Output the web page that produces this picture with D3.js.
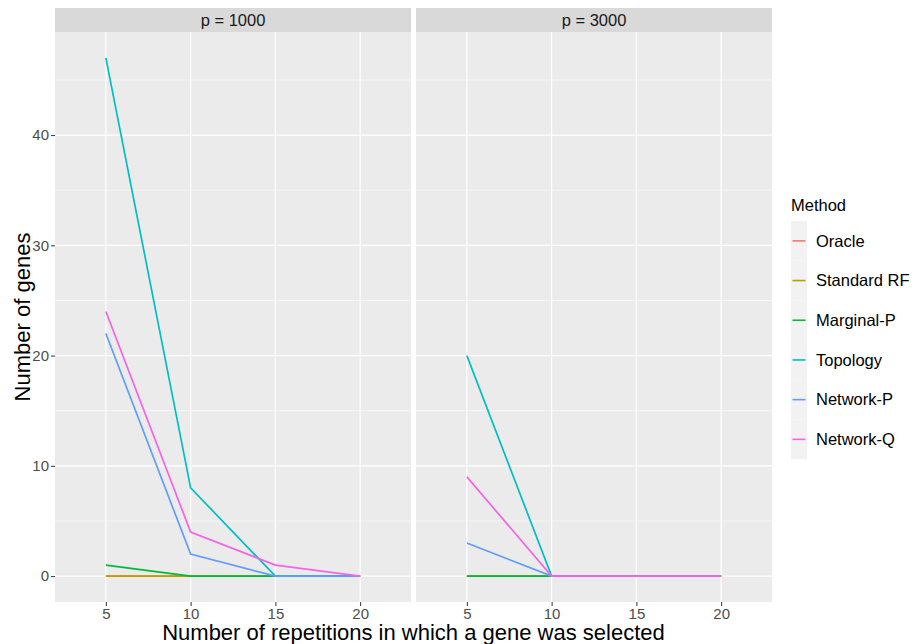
<!DOCTYPE html>
<html>
<head>
<meta charset="utf-8">
<script src="https://cdn.jsdelivr.net/npm/d3@7"></script>
<style>
  body { margin: 0; background: #fff; }
  text { font-family: "Liberation Sans", Arial, sans-serif; }
</style>
</head>
<body>
<div id="chart"></div>
<script>
// data
var xLevels = ["5", "10", "15", "20"];
var methods = ["Oracle", "Standard RF", "Marginal-P", "Topology", "Network-P", "Network-Q"];
var methodColors = ["#F8766D", "#B79F00", "#00BA38", "#00BFC4", "#619CFF", "#F564E3"];
var panelNames = ["p = 1000", "p = 3000"];
// one row per method, same order as methods
var values_p1000 = [
    [0, 0, 0, 0],
    [0, 0, 0, 0],
    [1, 0, 0, 0],
    [47, 8, 0, 0],
    [22, 2, 0, 0],
    [24, 4, 1, 0]
];
var values_p3000 = [
    [0, 0, 0, 0],
    [0, 0, 0, 0],
    [0, 0, 0, 0],
    [20, 0, 0, 0],
    [3, 0, 0, 0],
    [9, 0, 0, 0]
];
var yTicks = [0, 10, 20, 30, 40];
var yMinor = [5, 15, 25, 35, 45];

var svgWidth = 912;
var svgHeight = 644;

var panelTop = 32;
var panelBottom = 602;
var panelLefts = [55, 416];
var panelWidth = 356;
var stripHeight = 24;

var tickSize = 15;
var labelSize = 16.5;
var titleSize = 22;

var svg = d3.select("#chart").append("svg")
    .attr("width", svgWidth)
    .attr("height", svgHeight);

svg.append("rect").attr("width", svgWidth).attr("height", svgHeight).attr("fill", "#fff");

// shared y scale (with ggplot style 5% expansion)
var yMax = d3.max(values_p1000.concat(values_p3000), r => d3.max(r));
var yPad = yMax * 0.05;
var yScale = d3.scaleLinear()
    .domain([0 - yPad, yMax + yPad])
    .range([panelBottom, panelTop]);

var allValues = [values_p1000, values_p3000];

panelNames.forEach(function(name, i) {
    var left = panelLefts[i];

    // discrete x axis, expand 0.6 each side
    var xScale = d3.scalePoint()
        .domain(xLevels)
        .range([0, panelWidth])
        .padding(0.6);

    var g = svg.append("g").attr("transform", `translate(${left},0)`);

    // strip
    g.append("rect")
        .attr("x", 0).attr("y", panelTop - stripHeight)
        .attr("width", panelWidth).attr("height", stripHeight)
        .attr("fill", "#D9D9D9");
    g.append("text")
        .attr("x", panelWidth / 2)
        .attr("y", panelTop - stripHeight / 2)
        .attr("dy", "0.35em")
        .attr("text-anchor", "middle")
        .style("font-size", labelSize + "px")
        .attr("fill", "#1A1A1A")
        .text(name);

    // panel background
    g.append("rect")
        .attr("x", 0).attr("y", panelTop)
        .attr("width", panelWidth).attr("height", panelBottom - panelTop)
        .attr("fill", "#EBEBEB");

    // minor grid
    g.selectAll(".minor").data(yMinor).enter().append("line")
        .attr("x1", 0).attr("x2", panelWidth)
        .attr("y1", d => yScale(d)).attr("y2", d => yScale(d))
        .attr("stroke", "#fff").attr("stroke-width", 0.6);

    // major grid
    g.selectAll(".majorY").data(yTicks).enter().append("line")
        .attr("x1", 0).attr("x2", panelWidth)
        .attr("y1", d => yScale(d)).attr("y2", d => yScale(d))
        .attr("stroke", "#fff").attr("stroke-width", 1.2);
    g.selectAll(".majorX").data(xLevels).enter().append("line")
        .attr("x1", d => xScale(d)).attr("x2", d => xScale(d))
        .attr("y1", panelTop).attr("y2", panelBottom)
        .attr("stroke", "#fff").attr("stroke-width", 1.2);

    // x axis
    var xAxis = g.append("g")
        .attr("transform", `translate(0,${panelBottom})`)
        .call(d3.axisBottom(xScale).tickSize(4).tickPadding(2));
    xAxis.select(".domain").remove();
    xAxis.selectAll("line").attr("stroke", "#333").attr("stroke-width", 1);
    xAxis.selectAll("text")
        .attr("fill", "#4D4D4D")
        .style("font-size", tickSize + "px")
        .style("font-family", "Liberation Sans, Arial, sans-serif");

    // y axis on first panel only
    if (i === 0) {
        var yAxis = g.append("g")
            .call(d3.axisLeft(yScale).tickValues(yTicks).tickSize(4).tickPadding(2));
        yAxis.select(".domain").remove();
        yAxis.selectAll("line").attr("stroke", "#333").attr("stroke-width", 1);
        yAxis.selectAll("text")
            .attr("fill", "#4D4D4D")
            .style("font-size", tickSize + "px")
            .style("font-family", "Liberation Sans, Arial, sans-serif");
    }

    // lines
    var line = d3.line()
        .x((d, j) => xScale(xLevels[j]))
        .y(d => yScale(d));

    g.selectAll(".series").data(allValues[i]).enter().append("path")
        .attr("d", d => line(d))
        .attr("fill", "none")
        .attr("stroke", (d, k) => methodColors[k])
        .attr("stroke-width", 1.7);
});

// axis titles
svg.append("text")
    .attr("x", (panelLefts[0] + panelLefts[1] + panelWidth) / 2)
    .attr("y", 640)
    .attr("text-anchor", "middle")
    .style("font-size", titleSize + "px")
    .attr("fill", "#000")
    .text("Number of repetitions in which a gene was selected");

svg.append("text")
    .attr("transform", `translate(30,${(panelTop + panelBottom) / 2}) rotate(-90)`)
    .attr("text-anchor", "middle")
    .style("font-size", titleSize + "px")
    .attr("fill", "#000")
    .text("Number of genes");

// legend
var legend = svg.append("g").attr("transform", "translate(791,0)");
legend.append("text")
    .attr("x", 0).attr("y", 211)
    .style("font-size", labelSize + "px")
    .attr("fill", "#000")
    .text("Method");

var keyH = 39.7;
var keyTop = 221;
legend.selectAll(".keybg").data(methods).enter().append("rect")
    .attr("x", 0).attr("y", (d, k) => keyTop + k * keyH)
    .attr("width", 16).attr("height", keyH)
    .attr("fill", "#F2F2F2");
legend.selectAll(".keyline").data(methods).enter().append("line")
    .attr("x1", 1.5).attr("x2", 14.5)
    .attr("y1", (d, k) => keyTop + k * keyH + keyH / 2)
    .attr("y2", (d, k) => keyTop + k * keyH + keyH / 2)
    .attr("stroke", (d, k) => methodColors[k])
    .attr("stroke-width", 1.6);
legend.selectAll(".keytext").data(methods).enter().append("text")
    .attr("x", 25)
    .attr("y", (d, k) => keyTop + k * keyH + keyH / 2)
    .attr("dy", "0.35em")
    .style("font-size", labelSize + "px")
    .attr("fill", "#000")
    .text(d => d);
</script>
</body>
</html>
